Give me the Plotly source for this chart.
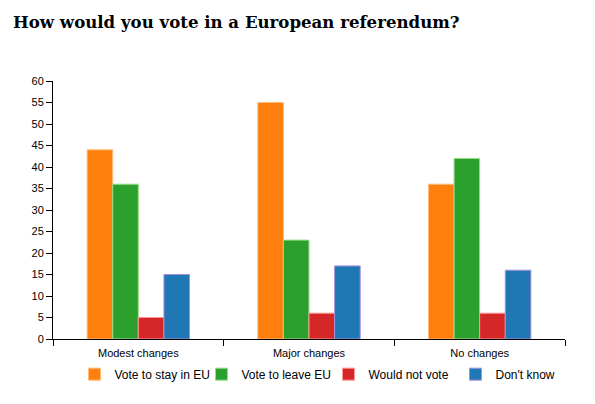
import plotly.graph_objects as go

categories = ["Modest changes", "Major changes", "No changes"]
series_names = ["Vote to stay in EU", "Vote to leave EU", "Would not vote", "Don't know"]
stay_eu = [44, 55, 36]
leave_eu = [36, 23, 42]
not_vote = [5, 6, 6]
dont_know = [15, 17, 16]
y_ticks = list(range(0, 61, 5))

fills = ["#ff7f0e", "#2ca02c", "#d62728", "#1f77b4"]
edges = ["#ffbb78", "#98df8a", "#ff9896", "#a990d8"]

fig = go.Figure()
for name, vals, fill, edge in zip(series_names, [stay_eu, leave_eu, not_vote, dont_know], fills, edges):
    fig.add_trace(go.Bar(
        x=categories, y=vals, name=name,
        marker=dict(color=fill, line=dict(color=edge, width=1)),
    ))

fig.update_layout(
    width=595, height=404,
    barmode="group", bargap=0.4, bargroupgap=0,
    plot_bgcolor="white", paper_bgcolor="white",
    margin=dict(l=45, r=38, t=73, b=73, autoexpand=False),
    font=dict(family="Liberation Sans, Arial, sans-serif", size=11, color="#000"),
    title=dict(
        text="<b>How would you vote in a European referendum?</b>",
        font=dict(family="DejaVu Serif, Georgia, serif", size=16.6, color="#000"),
        x=0.0085, xanchor="left", y=0.965, yanchor="middle",
    ),
    legend=dict(
        orientation="h", x=0.042, xanchor="left", y=-0.08, yanchor="top",
        font=dict(size=12), itemwidth=30, entrywidth=82, entrywidthmode="pixels",
    ),
    showlegend=True,
)
fig.update_xaxes(
    showline=True, linecolor="#000", linewidth=1,
    ticks="outside", ticklen=6, tickcolor="#000", tickson="boundaries",
    ticklabelstandoff=4,
    showgrid=False, automargin=False,
)
fig.update_yaxes(
    range=[0, 60], tickvals=y_ticks,
    showline=True, linecolor="#000", linewidth=1,
    ticks="outside", ticklen=6, tickcolor="#000",
    showgrid=False, zeroline=False, automargin=False,
)

fig.write_html("out.html")
